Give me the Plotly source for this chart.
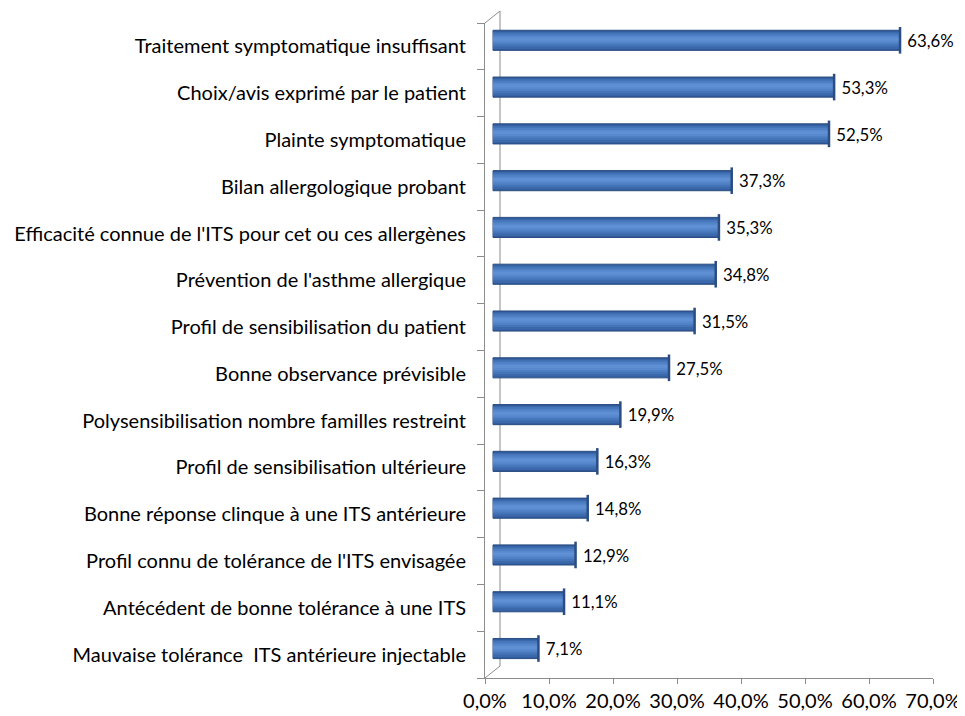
import plotly.graph_objects as go

categories = [
    "Traitement symptomatique insuffisant",
    "Choix/avis exprimé par le patient",
    "Plainte symptomatique",
    "Bilan allergologique probant",
    "Efficacité connue de l'ITS pour cet ou ces allergènes",
    "Prévention de l'asthme allergique",
    "Profil de sensibilisation du patient",
    "Bonne observance prévisible",
    "Polysensibilisation nombre familles restreint",
    "Profil de sensibilisation ultérieure",
    "Bonne réponse clinque à une ITS antérieure",
    "Profil connu de tolérance de l'ITS envisagée",
    "Antécédent de bonne tolérance à une ITS",
    "Mauvaise tolérance \u00a0ITS antérieure injectable",
]
values = [63.6, 53.3, 52.5, 37.3, 35.3, 34.8, 31.5, 27.5, 19.9, 16.3, 14.8, 12.9, 11.1, 7.1]
x_tickvals = [0, 10, 20, 30, 40, 50, 60, 70]
x_ticktext = ["0,0%", "10,0%", "20,0%", "30,0%", "40,0%", "50,0%", "60,0%", "70,0%"]

FONT = "Lato"
FS = 20
AX = "#8C8C8C"
order = categories[::-1]
n = len(categories)

fig = go.Figure()

# invisible trace to build front category axis
fig.add_trace(go.Scatter(x=[0] * n, y=categories, mode="markers",
                         marker=dict(opacity=0), hoverinfo="skip", showlegend=False))

# cylinder-like bars on shifted (depth) axes: stacked bands of a gradient
bands = [
    (0.43, -0.215, "#2F5A97"),
    (0.37, -0.185, "#3A68AB"),
    (0.29, -0.13, "#4575B9"),
    (0.21, -0.085, "#4F80C5"),
    (0.13, -0.045, "#5889CE"),
    (0.06, -0.005, "#6090D4"),
]
for i, (w, off, col) in enumerate(bands):
    bar_kw = dict(x=values, y=categories, orientation="h", width=w, offset=off,
                  marker=dict(color=col, line=dict(width=0)),
                  xaxis="x2", yaxis="y2", showlegend=False, cliponaxis=False)
    if i == 0:
        bar_kw["marker"] = dict(color=col, line=dict(color="#2B4D82", width=1))
        bar_kw["texttemplate"] = "\u00a0%{x:.1f}%"
        bar_kw["textposition"] = "outside"
        bar_kw["textfont"] = dict(family=FONT, size=FS, color="#000000")
    else:
        bar_kw["hoverinfo"] = "skip"
    fig.add_trace(go.Bar(**bar_kw))

fig.add_trace(go.Scatter(x=values, y=categories, mode="markers",
                         marker=dict(symbol="line-ns", size=19,
                                     line=dict(color="#2B4D82", width=2.5)),
                         xaxis="x2", yaxis="y2", showlegend=False, hoverinfo="skip",
                         cliponaxis=False))

# 3D wall lines
dx = 15 / 448
dy = 12 / 655
wall = dict(color=AX, width=1)
fig.add_shape(type="line", xref="x domain", yref="y domain", x0=dx, x1=dx, y0=dy, y1=1 + dy, line=wall, layer="below")
fig.add_shape(type="line", xref="x domain", yref="y domain", x0=0, x1=dx, y0=0, y1=dy, line=wall, layer="below")
fig.add_shape(type="line", xref="x domain", yref="y domain", x0=0, x1=dx, y0=1, y1=1 + dy, line=wall, layer="below")

fig.update_layout(
    width=957, height=708,
    margin=dict(l=477, r=32, t=15, b=38),
    paper_bgcolor="white", plot_bgcolor="white",
    barmode="overlay", separators=", ",
    font=dict(family=FONT, size=FS, color="#000000"),
    xaxis=dict(range=[0, 70], tickvals=x_tickvals, ticktext=x_ticktext, automargin=False,
               showgrid=False, zeroline=False, showline=True, linecolor=AX, linewidth=1,
               ticks="outside", ticklen=5, tickcolor=AX,
               tickfont=dict(family=FONT, size=FS, color="#000000")),
    yaxis=dict(type="category", categoryarray=order, range=[-0.5, n - 0.5], automargin=False,
               showgrid=False, zeroline=False, showline=True, linecolor=AX, linewidth=1,
               ticks="outside", ticklen=7, tickcolor=AX, tickson="boundaries",
               ticklabelstandoff=14,
               tickfont=dict(family=FONT, size=FS, color="#000000")),
    xaxis2=dict(overlaying="x", range=[-1.25, 68.75], visible=False),
    yaxis2=dict(overlaying="y", type="category", categoryarray=order,
                range=[-0.5 - 0.13, n - 0.5 - 0.13], visible=False),
)

fig.write_html("out.html")
